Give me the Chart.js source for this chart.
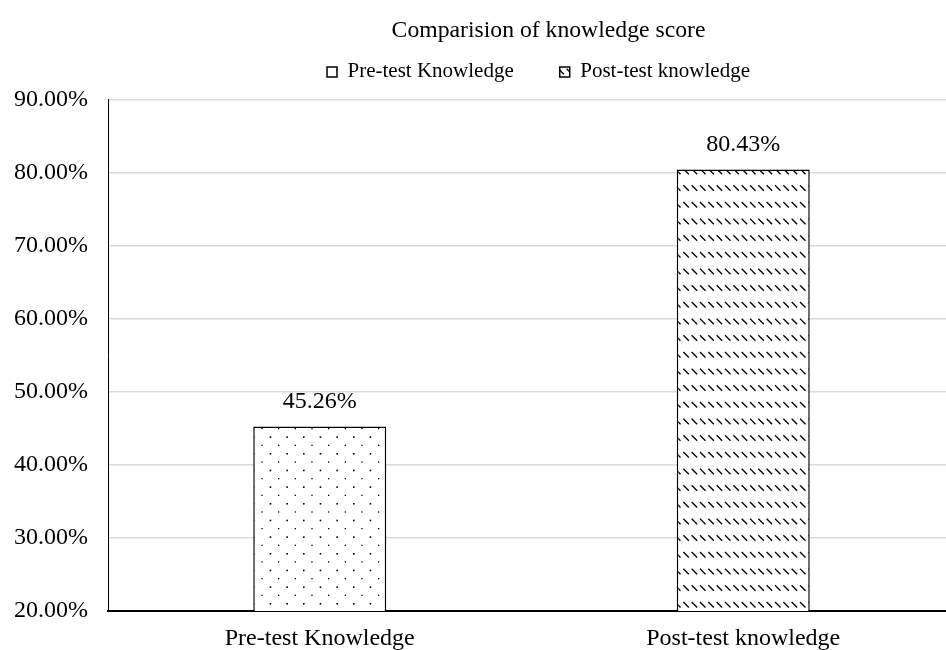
<!DOCTYPE html>
<html>
<head>
<meta charset="utf-8">
<script src="https://cdn.jsdelivr.net/npm/chart.js@4.4.1/dist/chart.umd.min.js"></script>
<style>
  html, body { margin: 0; padding: 0; background: #fff; overflow: hidden; }
  #wrap { position: relative; width: 1097px; height: 650px; }
</style>
</head>
<body>
<div id="wrap"><canvas id="chart"></canvas></div>
<script>
// Knowledge score comparison, pre-test vs post-test
const categories = ['Pre-test Knowledge', 'Post-test knowledge'];
const preTestScores = [45.26, null];
const postTestScores = [null, 80.43];
const seriesNames = ['Pre-test Knowledge', 'Post-test knowledge'];
const chartTitle = 'Comparision of knowledge score';
const yMin = 20;
const yMax = 90;
const yStep = 10;

const FONT = "'Liberation Serif', 'Times New Roman', serif";

// Sparse staggered dot fill
function dotPattern() {
  const c = document.createElement('canvas');
  const cell = 50 / 3;
  c.width = 50; c.height = 50;
  const g = c.getContext('2d');
  g.fillStyle = '#fff';
  g.fillRect(0, 0, 50, 50);
  g.fillStyle = '#000';
  for (let i = 0; i < 3; i++) {
    for (let j = 0; j < 3; j++) {
      g.fillRect(i * cell + 3, j * cell + 3, 1.6, 1.6);
      g.fillRect(i * cell + 3 + cell / 2, j * cell + 3 + cell / 2, 1.3, 1.3);
    }
  }
  return g.createPattern(c, 'repeat');
}

// Dashed downward-diagonal fill
function dashPattern() {
  const c = document.createElement('canvas');
  const cell = 50 / 3;
  c.width = 50; c.height = 50;
  const g = c.getContext('2d');
  g.fillStyle = '#fff';
  g.fillRect(0, 0, 50, 50);
  g.strokeStyle = '#000';
  g.lineWidth = 1.3;
  g.lineCap = 'butt';
  for (let i = -1; i < 7; i++) {
    for (let j = -1; j < 4; j++) {
      const x = i * cell / 2;
      const y = j * cell + 2;
      g.beginPath();
      g.moveTo(x, y);
      g.lineTo(x + 5.5, y + 5.5);
      g.stroke();
    }
  }
  return g.createPattern(c, 'repeat');
}

// Percentage value printed above each bar
const valueLabels = {
  id: 'valueLabels',
  afterDatasetsDraw(chart) {
    const ctx = chart.ctx;
    ctx.save();
    ctx.font = '24px ' + FONT;
    ctx.fillStyle = '#000';
    ctx.textAlign = 'center';
    ctx.textBaseline = 'alphabetic';
    chart.data.datasets.forEach((ds, di) => {
      const meta = chart.getDatasetMeta(di);
      meta.data.forEach((bar, i) => {
        const v = ds.data[i];
        if (v === null || v === undefined) return;
        ctx.fillText(v.toFixed(2) + '%', bar.x, bar.y - 18);
      });
    });
    ctx.restore();
  }
};

// Nudge the heading blocks after layout
function moveBox(box, dx, dy) {
  if (!box) return;
  box.left += dx; box.right += dx;
  box.top += dy; box.bottom += dy;
}
const headerOffset = {
  id: 'headerOffset',
  afterLayout(chart) {
    moveBox(chart.titleBlock, 64, 0);
    moveBox(chart.legend, 54, -7);
  }
};

Chart.defaults.font.family = FONT;
Chart.defaults.color = '#000';

new Chart(document.getElementById('chart'), {
  type: 'bar',
  data: {
    labels: categories,
    datasets: [
      {
        label: seriesNames[0],
        data: preTestScores,
        backgroundColor: dotPattern(),
        borderColor: '#000',
        borderWidth: 1.5
      },
      {
        label: seriesNames[1],
        data: postTestScores,
        backgroundColor: dashPattern(),
        borderColor: '#000',
        borderWidth: 1.5
      }
    ]
  },
  options: {
    responsive: true,
    maintainAspectRatio: false,
    animation: false,
    grouped: false,
    categoryPercentage: 1,
    barPercentage: 0.314,
    layout: { padding: { left: 14, right: 142, top: 0, bottom: 0 } },
    plugins: {
      title: {
        display: true,
        text: chartTitle,
        color: '#000',
        font: { size: 23.7, weight: 'normal', family: FONT },
        padding: { top: 17, bottom: -23 }
      },
      legend: {
        display: true,
        position: 'top',
        labels: {
          color: '#000',
          font: { size: 21, family: FONT },
          boxWidth: 10,
          boxHeight: 10,
          padding: 46
        }
      },
      tooltip: { enabled: false }
    },
    scales: {
      x: {
        afterFit(scale) { scale.height = 39; },
        grid: { display: false, drawTicks: false },
        border: { display: true, color: '#000', width: 2 },
        ticks: { color: '#000', font: { size: 24, family: FONT, lineHeight: 1 }, padding: 16 }
      },
      y: {
        min: yMin,
        max: yMax,
        afterFit(scale) { scale.width = 94; },
        grid: { color: '#d9d9d9', lineWidth: 1.5, drawTicks: false },
        border: { display: true, color: '#000', width: 1 },
        ticks: {
          stepSize: yStep,
          color: '#000',
          font: { size: 24, family: FONT },
          padding: 20,
          callback: v => v.toFixed(2) + '%'
        }
      }
    }
  },
  plugins: [valueLabels, headerOffset]
});
</script>
</body>
</html>
